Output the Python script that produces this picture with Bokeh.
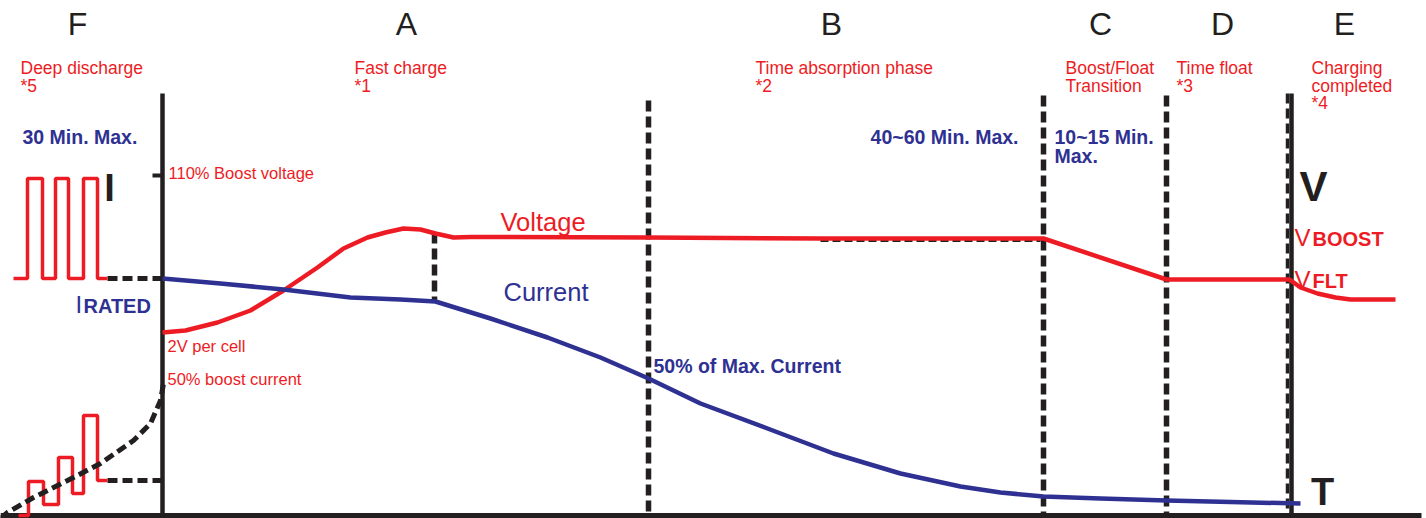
from bokeh.plotting import figure
from bokeh.models import Range1d
from bokeh.embed import file_html
from bokeh.resources import INLINE
from bokeh.core.properties import value

RED = "#ed1c24"
BLUE = "#2e3192"
BLACK = "#231f20"
FONT = value("Liberation Sans")

# ---- data (diagram units: x = time, y = level, screen-like, downward) ----
volt_x = [162, 185, 217, 250, 283, 317, 343, 367, 385, 403, 420, 435, 453, 470, 648, 820, 1043, 1166, 1289, 1300, 1317, 1335, 1350, 1372, 1395]
volt_y = [332, 330, 322, 310, 290, 267, 248, 237, 232, 228, 229, 233, 237, 236.5, 237, 238, 238, 279, 279, 287, 293, 297, 299, 299, 299]

cur_x = [162, 220, 283, 350, 400, 435, 490, 547, 600, 648, 700, 767, 833, 900, 960, 1000, 1043, 1100, 1166, 1230, 1300]
cur_y = [278, 283, 289, 297, 299, 301, 318, 337, 357, 378, 403, 428, 453, 473, 486, 492, 496, 498, 500, 501.5, 503]

pulse_top_x = [13, 27, 27, 42, 42, 55, 55, 68, 68, 83, 83, 97, 97, 107]
pulse_top_y = [278, 278, 178, 178, 278, 278, 178, 178, 278, 278, 178, 178, 278, 278]

pulse_bot_x = [18, 28, 28, 43, 43, 58, 58, 72, 72, 83, 83, 97, 97, 107]
pulse_bot_y = [515, 515, 481, 481, 504, 504, 457, 457, 493, 493, 415, 415, 480, 480]

ramp_x = [0, 7, 33, 67, 100, 133, 150, 160, 163]
ramp_y = [518, 512, 497, 480, 463, 440, 423, 400, 383]

phase_letters = ["F", "A", "B", "C", "D", "E"]
phase_letter_x = [77, 406, 831, 1100, 1222, 1344]

phase_bounds = [648, 1043, 1166]
i_rated = 278
i_low = 480
v_boost_tick = 175

p = figure(width=1426, height=518, output_backend="svg", toolbar_location=None,
           x_range=Range1d(0, 1426), y_range=Range1d(518, 0), min_border=0)
p.axis.visible = False
p.grid.visible = False
p.outline_line_color = None
p.background_fill_color = "white"

# axes
p.line([0, 1421], [515, 515], line_color=BLACK, line_width=5)
p.line([162, 162], [93, 515], line_color=BLACK, line_width=4.5)
p.line([152, 162], [v_boost_tick, v_boost_tick], line_color=BLACK, line_width=4)
p.line([1291, 1291], [93, 515], line_color=BLACK, line_width=4.5)
p.line([1287, 1287], [93, 515], line_color=BLACK, line_width=3.5, line_dash="10 5")

# dashed phase boundaries
tops = [100, 95, 95]
for xb, t in zip(phase_bounds, tops):
    p.line([xb, xb], [t, 515], line_color=BLACK, line_width=5.5, line_dash="11 5")
p.line([434, 434], [232, 302], line_color=BLACK, line_width=5.5, line_dash="11 5")
p.line([107, 162], [i_rated, i_rated], line_color=BLACK, line_width=5, line_dash="10 5")
p.line([107, 162], [i_low, i_low], line_color=BLACK, line_width=5, line_dash="10 5")
p.line([820, 1040], [240, 240], line_color=BLACK, line_width=3, line_dash="8 4")

# curves
p.line(volt_x, volt_y, line_color=RED, line_width=4.5, line_join="round")
p.line(cur_x, cur_y, line_color=BLUE, line_width=4.5, line_join="round")

# pulses
p.line(pulse_top_x, pulse_top_y, line_color=RED, line_width=3.5)
p.line(pulse_bot_x, pulse_bot_y, line_color=RED, line_width=3.5)
p.line(ramp_x, ramp_y, line_color=BLACK, line_width=5, line_dash="10 5")

# phase letters
p.text(x=phase_letter_x, y=[23.5] * 6, text=phase_letters, text_font=FONT, text_font_size="32px",
       text_color=BLACK, text_align="center", text_baseline="middle")

def lab(x, y, s, color, size, bold=False, align="left"):
    p.text(x=[x], y=[y], text=[s], text_font=FONT, text_font_size=size, text_color=color,
           text_align=align, text_baseline="middle",
           text_font_style="bold" if bold else "normal")

# red phase descriptions
for (x, lines) in [(20, ["Deep discharge", "*5"]), (354, ["Fast charge", "*1"]),
                   (755, ["Time absorption phase", "*2"]), (1065, ["Boost/Float", "Transition"]),
                   (1176, ["Time float", "*3"]), (1311, ["Charging", "completed", "*4"])]:
    for k, s in enumerate(lines):
        lab(x, 67.5 + 17.5 * k, s, RED, "17.5px")

# blue durations
lab(22, 136.5, "30 Min. Max.", BLUE, "19.5px", bold=True)
lab(1018, 136.5, "40~60 Min. Max.", BLUE, "19.5px", bold=True, align="right")
lab(1054, 136.5, "10~15 Min.", BLUE, "19.5px", bold=True)
lab(1054, 155.5, "Max.", BLUE, "19.5px", bold=True)
lab(653, 365, "50% of Max. Current", BLUE, "19.5px", bold=True)

# small red annotations
lab(168, 172.5, "110% Boost voltage", RED, "16.5px")
lab(167, 345, "2V per cell", RED, "16.5px")
lab(167, 378, "50% boost current", RED, "16.5px")

lab(500, 221, "Voltage", RED, "25.5px")
lab(503, 291.5, "Current", BLUE, "25.5px")

# axis letters
lab(109, 187, "I", BLACK, "38px", bold=True, align="center")
lab(1313, 186, "V", BLACK, "42px", bold=True, align="center")
lab(1322, 491, "T", BLACK, "38px", bold=True, align="center")

lab(75, 303.5, "I", BLUE, "24px")
lab(83, 305.5, "RATED", BLUE, "20px", bold=True)
lab(1294, 237, "V", RED, "24px")
lab(1312, 238.5, "BOOST", RED, "20px", bold=True)
lab(1294, 278.5, "V", RED, "24px")
lab(1312, 280, "FLT", RED, "20px", bold=True)

open("out.html", "w").write(file_html(p, INLINE))
